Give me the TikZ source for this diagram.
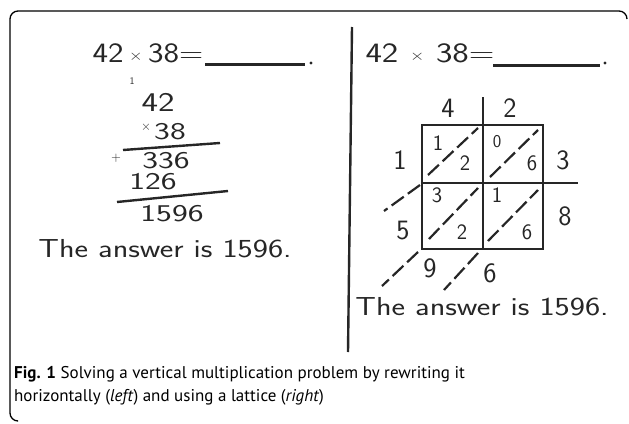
\documentclass[tikz,border=0pt]{standalone}
\usepackage{fontspec}
\newfontfamily\capfont{PT Sans}
\usepackage{tikz}
\usepackage{xcolor}
\newcommand{\wide}[2][1.4]{\scalebox{#1}[1]{#2}}
\newcommand{\tms}{{\fontsize{15}{15}\selectfont\raisebox{2pt}{×}}}

\begin{document}
\begin{tikzpicture}[x=1pt,y=-1pt,
  hand/.style={font=\sffamily\fontsize{28}{28}\selectfont, inner sep=0pt, text=black!85},
  stack/.style={font=\sffamily\fontsize{24}{24}\selectfont, inner sep=0pt, text=black!85},
  tiny/.style={font=\sffamily\fontsize{22}{22}\selectfont, inner sep=0pt, text=black!85},
  ink/.style={line width=2.6pt, black!85},
  diag/.style={line width=2.2pt, dash pattern=on 15pt off 5pt, black!85}]
  \useasboundingbox (0,0) rectangle (629,423);
  \draw[line width=1.3pt, rounded corners=8pt] (627,19) -- (627,11) -- (10,11) -- (10,421) -- (17,421);

  % left: rewritten vertically
  \node[hand] (eqL) at (148,53) {\wide[1.18]{42\,\tms\,38=}};
  \draw[line width=3pt, black!85] (205,64) -- (305,64);
  \fill[black!85] (311,63) circle (1.6pt);
  \node[stack, font=\sffamily\fontsize{10}{10}\selectfont] (carry) at (132,81) {1};
  \node[stack, font=\sffamily\fontsize{27}{27}\selectfont] (top) at (158,102) {\wide[1.3]{42}};
  \node[stack, font=\sffamily\fontsize{13}{13}\selectfont] (times) at (146,127) {×};
  \node[stack] (bot) at (170,132) {\wide{38}};
  \draw[line width=2.4pt, black!85] (123,150) -- (220,143);
  \node[stack] (pa) at (166,161) {\wide{336}};
  \node[stack, font=\sffamily\fontsize{13}{13}\selectfont] (plus) at (116,158) {+};
  \node[stack] (pb) at (153,182) {\wide{126}};
  \draw[line width=2.4pt, black!85] (117,202) -- (228,191);
  \node[stack] (sumL) at (172,214) {\wide{1596}};
  \node[stack, font=\sffamily\fontsize{26}{26}\selectfont] (ansL) at (165,249) {\wide[1.24]{The answer is 1596.}};

  \draw[line width=2.4pt, black!85] (352,27) -- (348,352);

  % right: lattice
  \node[hand] (eqR) at (430,53) {\wide[1.25]{42\,\,\tms\,\,38=}};
  \draw[line width=3pt, black!85] (493,65) -- (600,65);
  \fill[black!85] (605,63) circle (1.6pt);
  \node[hand] (c4) at (448,108) {4};
  \node[hand] (c2) at (510,108) {2};
  \node[hand] (r3) at (563,160) {3};
  \node[hand] (r8) at (565,216) {8};
  \node[hand] (r1) at (400,160) {1};
  \node[hand] (r5) at (403,231) {5};
  \draw[ink] (422,125) rectangle (543,249);
  \draw[ink] (483,97) -- (483,249);
  \draw[ink] (422,183) -- (578,183);
  \draw[diag] (428,175) -- (478,128);
  \draw[diag] (490,177) -- (538,130);
  \draw[diag] (429,239) -- (478,188);
  \draw[diag] (488,241) -- (538,190);
  \draw[diag] (420,185) -- (384,211);
  \draw[diag] (418,252) -- (382,286);
  \draw[diag] (478,253) -- (444,290);
  \node[tiny] (a1) at (438,143) {1};
  \node[tiny] (a2) at (465,163) {2};
  \node[tiny, font=\sffamily\fontsize{18}{18}\selectfont] (b0) at (497,142) {0};
  \node[tiny] (b6) at (532,163) {6};
  \node[tiny] (c3) at (437,195) {3};
  \node[tiny] (c2b) at (462,232) {2};
  \node[tiny] (d1) at (497,195) {1};
  \node[tiny] (d6) at (527,232) {6};
  \node[hand] (s9) at (430,268) {9};
  \node[hand] (s6) at (490,273) {6};
  \node[stack, font=\sffamily\fontsize{26}{26}\selectfont] (ansR) at (482,307) {\wide[1.24]{The answer is 1596.}};

  \node[anchor=north west, align=left, inner sep=0pt, font=\capfont\fontsize{17}{23.5}\selectfont] (cap) at (14,366)
    {\textbf{Fig. 1} Solving a vertical multiplication problem by rewriting it\\
     horizontally (\textit{left}) and using a lattice (\textit{right})};
\end{tikzpicture}
\end{document}
